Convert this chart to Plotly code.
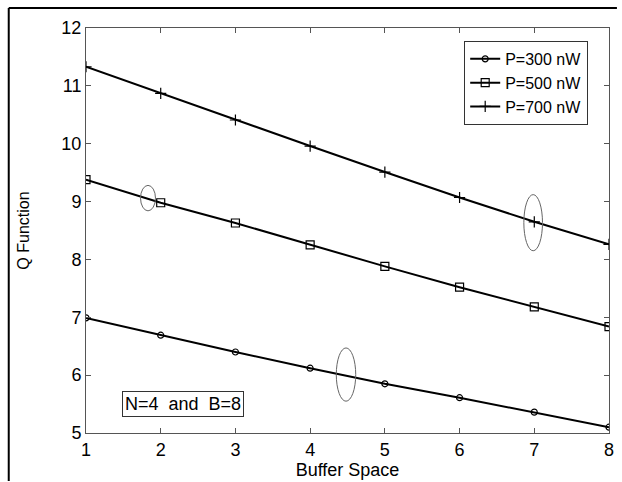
import plotly.graph_objects as go

buffer_space = [1, 2, 3, 4, 5, 6, 7, 8]
q_300 = [6.99, 6.69, 6.40, 6.12, 5.85, 5.61, 5.36, 5.10]
q_500 = [9.38, 8.98, 8.63, 8.25, 7.88, 7.52, 7.18, 6.84]
q_700 = [11.33, 10.87, 10.41, 9.96, 9.51, 9.07, 8.65, 8.26]
series_names = ["P=300 nW", "P=500 nW", "P=700 nW"]
x_ticks = [1, 2, 3, 4, 5, 6, 7, 8]
y_ticks = [5, 6, 7, 8, 9, 10, 11, 12]

FONT = "Arial, Liberation Sans, Helvetica, sans-serif"
W, H = 622, 482
L, R, T, B = 86, 8, 28, 48
pw, ph = W - L - R, H - T - B

def px_x(p):
    return (p - L) / pw

def px_y(p):
    return (H - B - p) / ph

fig = go.Figure()
styles = [
    dict(symbol="circle-open", size=6),
    dict(symbol="square-open", size=8),
    dict(symbol="cross-thin-open", size=8),
]
for name, vals, st in zip(series_names, [q_300, q_500, q_700], styles):
    fig.add_trace(go.Scatter(
        x=buffer_space, y=vals, name=name, mode="lines+markers",
        line=dict(color="black", width=2),
        marker=dict(symbol=st["symbol"], size=st["size"], color="black",
                    line=dict(color="black", width=1.2)),
    ))

# ellipses
ell = [
    (1.73, 8.84, 1.93, 9.28),
    (6.86, 8.15, 7.11, 9.12),
    (4.35, 5.55, 4.61, 6.47),
]
shapes = []
for x0, y0, x1, y1 in ell:
    shapes.append(dict(type="circle", xref="x", yref="y", x0=x0, y0=y0, x1=x1, y1=y1,
                       line=dict(color="#666666", width=1)))

# figure frame (left and top lines)
shapes.append(dict(type="line", xref="paper", yref="paper",
                   x0=px_x(8), y0=px_y(482), x1=px_x(8), y1=px_y(8),
                   line=dict(color="black", width=2)))
shapes.append(dict(type="line", xref="paper", yref="paper",
                   x0=px_x(8), y0=px_y(8), x1=px_x(622), y1=px_y(8),
                   line=dict(color="black", width=2)))

fig.update_layout(
    width=W, height=H,
    margin=dict(l=L, r=R, t=T, b=B, pad=0),
    paper_bgcolor="white", plot_bgcolor="white",
    font=dict(family=FONT, size=17, color="black"),
    showlegend=True,
    legend=dict(x=px_x(593), y=px_y(41), xanchor="right", yanchor="top",
                bgcolor="white", bordercolor="#333333", borderwidth=1,
                font=dict(family=FONT, size=16, color="black"),
                itemwidth=30, tracegroupgap=0),
    shapes=shapes,
    annotations=[dict(
        x=2.3, y=5.5, xref="x", yref="y", showarrow=False,
        text="N=4\u00a0\u00a0and\u00a0\u00a0B=8",
        font=dict(family=FONT, size=18, color="black"),
        bordercolor="#333333", borderwidth=1, borderpad=2, bgcolor="white",
    )],
    xaxis=dict(range=[1, 8], tickvals=x_ticks, ticks="inside", ticklen=5,
               tickcolor="#555555", showline=True, linecolor="#555555", linewidth=1,
               mirror="ticks", showgrid=False, zeroline=False,
               title=dict(text="Buffer Space", font=dict(size=18), standoff=2),
               tickfont=dict(size=18)),
    yaxis=dict(range=[5, 12], tickvals=y_ticks, ticks="inside", ticklen=5,
               tickcolor="#555555", showline=True, linecolor="#555555", linewidth=1,
               mirror="ticks", showgrid=False, zeroline=False,
               title=dict(text="Q Function", font=dict(size=16), standoff=27),
               tickfont=dict(size=18)),
)

fig.write_html("out.html")
